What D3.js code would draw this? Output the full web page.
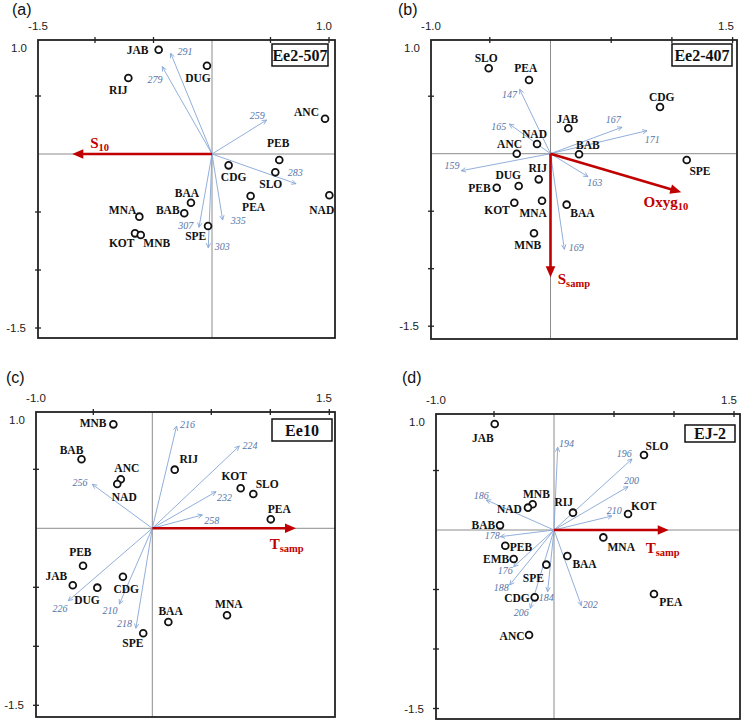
<!DOCTYPE html>
<html><head><meta charset="utf-8">
<script src="https://cdn.jsdelivr.net/npm/d3@7"></script>
<style>body{margin:0;background:#fff}</style>
</head><body><svg id="chart" width="744" height="724"></svg>
<script>
// ---------- Panel (a) Ee2-507 ----------
const sitesA = ["JAB","DUG","RIJ","ANC","PEB","SLO","CDG","PEA","NAD","BAA","BAB","SPE","MNA","KOT","MNB"];
const siteXA = [-0.456,-0.043,-0.715,0.966,0.575,0.541,0.142,0.330,1.003,-0.180,-0.237,-0.034,-0.621,-0.658,-0.609];
const siteYA = [0.899,0.761,0.655,0.304,-0.052,-0.158,-0.098,-0.362,-0.356,-0.420,-0.511,-0.621,-0.540,-0.684,-0.698];
const speciesA = ["291","279","259","283","335","307","303"];
const specXA = [-0.353,-0.425,0.467,0.718,0.091,-0.111,-0.032];
const specYA = [0.868,0.753,0.293,-0.256,-0.569,-0.632,-0.808];
const envNameA = ["S"], envSubA = ["10"];
const envXA = [-1.194], envYA = [0];

// ---------- Panel (b) Ee2-407 ----------
const sitesB = ["SLO","PEA","CDG","JAB","NAD","ANC","BAB","SPE","RIJ","DUG","PEB","KOT","MNA","BAA","MNB"];
const siteXB = [-0.509,-0.177,0.902,0.147,-0.111,-0.278,0.235,1.122,-0.097,-0.262,-0.443,-0.298,-0.070,0.133,-0.136];
const siteYB = [0.743,0.641,0.406,0.221,0.084,0.000,-0.005,-0.055,-0.223,-0.281,-0.296,-0.426,-0.409,-0.443,-0.692];
const speciesB = ["147","165","167","171","159","163","169"];
const specXB = [-0.254,-0.339,0.589,0.795,-0.735,0.309,0.114];
const specYB = [0.560,0.258,0.230,0.200,-0.148,-0.200,-0.831];
const envNameB = ["Oxyg","S"], envSubB = ["10","samp"];
const envXB = [1.077,0], envYB = [-0.336,-1.075];

// ---------- Panel (c) Ee10 ----------
const sitesC = ["MNB","BAB","ANC","NAD","RIJ","KOT","SLO","PEA","PEB","JAB","DUG","CDG","BAA","MNA","SPE"];
const siteXC = [-0.330,-0.600,-0.267,-0.297,0.190,0.749,0.856,1.004,-0.587,-0.674,-0.466,-0.249,0.136,0.633,-0.077];
const siteYC = [0.881,0.585,0.415,0.375,0.497,0.339,0.291,0.076,-0.317,-0.483,-0.503,-0.410,-0.794,-0.737,-0.890];
const speciesC = ["216","224","232","258","256","226","210","218"];
const specXC = [0.206,0.737,0.540,0.424,-0.508,-0.712,-0.279,-0.139];
const specYC = [0.867,0.697,0.310,0.113,0.373,-0.614,-0.642,-0.847];
const envNameC = ["T"], envSubC = ["samp"];
const envXC = [1.218], envYC = [0];

// ---------- Panel (d) EJ-2 ----------
const sitesD = ["JAB","SLO","MNB","NAD","RIJ","KOT","BAB","MNA","PEB","EMB","BAA","SPE","CDG","PEA","ANC"];
const siteXD = [-0.494,0.750,-0.178,-0.217,0.158,0.617,-0.450,0.411,-0.406,-0.336,0.111,-0.064,-0.161,0.833,-0.208];
const siteYD = [0.891,0.630,0.216,0.188,0.146,0.134,0.039,-0.062,-0.132,-0.244,-0.218,-0.291,-0.566,-0.538,-0.882];
const speciesD = ["194","196","200","210","186","178","176","188","184","206","202"];
const specXD = [0.031,0.650,0.617,0.483,-0.564,-0.447,-0.336,-0.369,-0.053,-0.197,0.228];
const specYD = [0.695,0.597,0.364,0.118,0.252,-0.056,-0.308,-0.462,-0.518,-0.658,-0.636];
const envNameD = ["T"], envSubD = ["samp"];
const envXD = [0.956], envYD = [0];

// axis tick labels
const xTickLabelsA = ["-1.5","1.0"], yTickLabelsA = ["1.0","-1.5"];
const xTickLabelsB = ["-1.0","1.5"], yTickLabelsB = ["1.0","-1.5"];
const xTickLabelsC = ["-1.0","1.5"], yTickLabelsC = ["1.0","-1.5"];
const xTickLabelsD = ["-1.0","1.5"], yTickLabelsD = ["1.0","-1.5"];
const panelLetters = ["(a)","(b)","(c)","(d)"];
const panelTitles = ["Ee2-507","Ee2-407","Ee10","EJ-2"];

// ---------- layout (label offsets in px, frames) ----------
const siteOffA = [[-21,0],[-9,12],[-10,12],[-18.5,-6.4],[-1,-17],[-4.5,11.4],[5,11.7],[3,11.3],[-7.6,14.7],[-4,-9.4],[-16.5,-3.3],[-12.3,10.3],[-16.8,-6.7],[-13.3,9.7],[16,8]];
const specOffA = [[14.3,-1.6],[-7.3,12.6],[-9.5,-5],[-0.7,-11.4],[15.6,0],[-13.2,-1.6],[13.9,-1.4]];
const envOffA = [[27.4,-10.4]];
const siteOffB = [[-2.5,-10],[-3.2,-11.7],[1.7,-10.3],[-1,-9.3],[-2.5,-9.7],[-7.2,-9.7],[8.8,-9.3],[13.3,11],[-1,-11],[-10.5,-11],[-17.2,0],[-17.3,7.3],[-8.8,12.3],[15.8,8.3],[-6.2,11.7]];
const specOffB = [[-10.2,4.7],[-10.5,2],[-8.7,-7.3],[5.3,8.6],[-9.3,-5],[6.8,6],[11.9,-1.3]];
const envOffB = [[-15.3,11],[23.4,3]];
const siteOffC = [[-20.3,-1],[-10,-9.3],[6,-11],[7,12.7],[14,-10.7],[-6.5,-12.3],[13.9,-9.7],[8.5,-10.3],[-2.7,-14],[-16.4,-9.3],[-10.3,12.3],[3.3,12.3],[2.2,-11],[1.8,-11],[-10.3,10]];
const specOffC = [[10.8,-1.7],[10.7,-1],[8.5,6],[9.4,6],[-12.3,-1.6],[-8.3,7.6],[-9.3,6.7],[-11.5,-4.3]];
const envOffC = [[-9.3,17]];
const siteOffD = [[-11.9,14.3],[13,-9.3],[3.8,-10],[-18.5,1.6],[-9.3,-11],[15.7,-8.3],[-16.7,0],[17.9,9.4],[15.7,1],[-17.5,0],[17.2,8.3],[-13,13],[-17.7,1],[16.8,8.3],[-17,1]];
const specOffD = [[8.8,-4],[-7.8,-5],[3.5,-6],[2.2,-5.3],[-5.1,-5],[-8.1,-0.7],[-8.5,4],[-8.5,2.3],[-1.5,6],[-9.1,4],[8.9,-1.4]];
const envOffD = [[-6,19]];

const panels = [
  {frame:[38,40,335,338], origin:[212,154], k:[117,116], xt:[-1,-0.5,0.5,1.0], yt:[0.5,-0.5,-1,-1.5], xl:xTickLabelsA, yl:yTickLabelsA, ylow:-1.5,
   letter:[12,15], box:[272,44,328,66],
   sites:sitesA, sx:siteXA, sy:siteYA, so:siteOffA, spec:speciesA, px:specXA, py:specYA, po:specOffA, en:envNameA, es:envSubA, ex:envXA, ey:envYA, eo:envOffA},
  {frame:[431,40,737,339], origin:[550.5,153.7], k:[121.4,115], xt:[-0.5,0.5,1.0,1.5], yt:[0.5,-0.5,-1,-1.5], xl:xTickLabelsB, yl:yTickLabelsB, ylow:-1.5,
   letter:[398,15], box:[672,44,732,66],
   sites:sitesB, sx:siteXB, sy:siteYB, so:siteOffB, spec:speciesB, px:specXB, py:specYB, po:specOffB, en:envNameB, es:envSubB, ex:envXB, ey:envYB, eo:envOffB},
  {frame:[36,412,335,717], origin:[152.3,528.3], k:[118,118], xt:[-0.5,0.5,1.0,1.5], yt:[0.5,-0.5,-1,-1.5], xl:xTickLabelsC, yl:yTickLabelsC, ylow:-1.5,
   letter:[6,383], box:[272,419,332,441],
   sites:sitesC, sx:siteXC, sy:siteYC, so:siteOffC, spec:speciesC, px:specXC, py:specYC, po:specOffC, en:envNameC, es:envSubC, ex:envXC, ey:envYC, eo:envOffC},
  {frame:[436,414,740,719], origin:[554,530], k:[120,119], xt:[-0.5,0.5,1.0,1.5], yt:[0.5,-0.5,-1,-1.5], xl:xTickLabelsD, yl:yTickLabelsD, ylow:-1.5,
   letter:[402,383], box:[685,425,735,442],
   sites:sitesD, sx:siteXD, sy:siteYD, so:siteOffD, spec:speciesD, px:specXD, py:specYD, po:specOffD, en:envNameD, es:envSubD, ex:envXD, ey:envYD, eo:envOffD}
];

const SERIF = "'Liberation Serif','Times New Roman',serif";
const SANS = "'Liberation Sans',Arial,sans-serif";
const RED = "#c00000", BLUE = "#86a6d6", BLUE_T = "#5675a8";
const svg = d3.select("#chart");

panels.forEach((p, pi) => {
  const [fl, ft, fr, fb] = p.frame;
  const [ox, oy] = p.origin;
  const x = d3.scaleLinear().domain([(fl-ox)/p.k[0], (fr-ox)/p.k[0]]).range([fl, fr]);
  const y = d3.scaleLinear().domain([(oy-ft)/p.k[1], (oy-fb)/p.k[1]]).range([ft, fb]);
  const g = svg.append("g");

  // panel letter
  g.append("text").attr("x", p.letter[0]).attr("y", p.letter[1]).text(panelLetters[pi])
    .style("font-family", SANS).style("font-size","16px").attr("fill","#111");

  // zero lines
  g.append("line").attr("x1", fl).attr("x2", fr).attr("y1", y(0)).attr("y2", y(0)).attr("stroke","#8c8c8c").attr("stroke-width",1);
  g.append("line").attr("x1", x(0)).attr("x2", x(0)).attr("y1", ft).attr("y2", fb).attr("stroke","#8c8c8c").attr("stroke-width",1);

  // ticks
  p.xt.forEach(t => g.append("line").attr("x1", x(t)).attr("x2", x(t)).attr("y1", ft-3).attr("y2", ft+3).attr("stroke","#222").attr("stroke-width",1.3));
  p.yt.forEach(t => g.append("line").attr("y1", y(t)).attr("y2", y(t)).attr("x1", fl-3).attr("x2", fl+3).attr("stroke","#222").attr("stroke-width",1.3));

  // tick labels
  const tl = (tx, ty, s, anchor) => g.append("text").attr("x", tx).attr("y", ty).text(s)
    .attr("text-anchor", anchor).style("font-family", SANS).style("font-size","11.5px").attr("fill","#222");
  tl(x.range()[0], ft-10, p.xl[0], "middle");
  tl(x.range()[1]-3, ft-10, p.xl[1], "end");
  tl(fl-11, ft+12, p.yl[0], "end");
  tl(fl-12, y(p.ylow)+4, p.yl[1], "end");

  // species arrows
  p.spec.forEach((s, i) => {
    const x1 = x(p.px[i]), y1 = y(p.py[i]);
    const ang = Math.atan2(y1 - y(0), x1 - x(0));
    g.append("line").attr("x1", x(0)).attr("y1", y(0)).attr("x2", x1).attr("y2", y1)
      .attr("stroke", BLUE).attr("stroke-width", 0.9);
    const L = 5, a = 0.45;
    const pth = `M${x1 - L*Math.cos(ang-a)},${y1 - L*Math.sin(ang-a)} L${x1},${y1} L${x1 - L*Math.cos(ang+a)},${y1 - L*Math.sin(ang+a)}`;
    g.append("path").attr("d", pth).attr("fill","none").attr("stroke", BLUE).attr("stroke-width", 0.9);
    g.append("text").attr("x", x1 + p.po[i][0]).attr("y", y1 + p.po[i][1] + 3.5).text(s)
      .attr("text-anchor","middle").style("font-family", SERIF).style("font-style","italic")
      .style("font-size","10px").attr("fill", BLUE_T);
  });

  // environmental arrows
  p.en.forEach((n, i) => {
    const x1 = x(p.ex[i]), y1 = y(p.ey[i]);
    const x0 = x(0), y0 = y(0);
    const ang = Math.atan2(y1 - y0, x1 - x0);
    const HL = 11, HW = 4.8;
    const bx = x1 - HL*Math.cos(ang), by = y1 - HL*Math.sin(ang);
    g.append("line").attr("x1", x0).attr("y1", y0).attr("x2", bx + 2*Math.cos(ang)).attr("y2", by + 2*Math.sin(ang))
      .attr("stroke", RED).attr("stroke-width", 2.6);
    const nx = -Math.sin(ang), ny = Math.cos(ang);
    g.append("path").attr("d", `M${x1},${y1} L${bx + HW*nx},${by + HW*ny} L${bx - HW*nx},${by - HW*ny} Z`).attr("fill", RED);
    const t = g.append("text").attr("x", x1 + p.eo[i][0]).attr("y", y1 + p.eo[i][1] + 4)
      .attr("text-anchor","middle").style("font-family", SERIF).style("font-weight","bold")
      .style("font-size","15px").attr("fill", RED);
    t.append("tspan").text(n);
    t.append("tspan").text(p.es[i]).attr("dy", 3).style("font-size","10.5px");
  });

  // site points
  p.sites.forEach((s, i) => {
    const cx = x(p.sx[i]), cy = y(p.sy[i]);
    g.append("circle").attr("cx", cx).attr("cy", cy).attr("r", 3.4)
      .attr("fill","#fff").attr("stroke","#111").attr("stroke-width", 1.8);
    g.append("text").attr("x", cx + p.so[i][0]).attr("y", cy + p.so[i][1] + 4).text(s)
      .attr("text-anchor","middle").style("font-family", SERIF).style("font-weight","bold")
      .style("font-size","11.5px").attr("fill","#111");
  });

  // frame
  g.append("rect").attr("x", fl).attr("y", ft).attr("width", fr-fl).attr("height", fb-ft)
    .attr("fill","none").attr("stroke","#222").attr("stroke-width", 1.8);

  // title box
  const b = p.box;
  g.append("rect").attr("x", b[0]).attr("y", b[1]).attr("width", b[2]-b[0]).attr("height", b[3]-b[1])
    .attr("fill","#fff").attr("stroke","#111").attr("stroke-width", 1.5);
  g.append("text").attr("x", (b[0]+b[2])/2).attr("y", (b[1]+b[3])/2 + 5.5).text(panelTitles[pi])
    .attr("text-anchor","middle").style("font-family", SERIF).style("font-weight","bold")
    .style("font-size","16px").attr("fill","#111");
});
</script></body></html>
